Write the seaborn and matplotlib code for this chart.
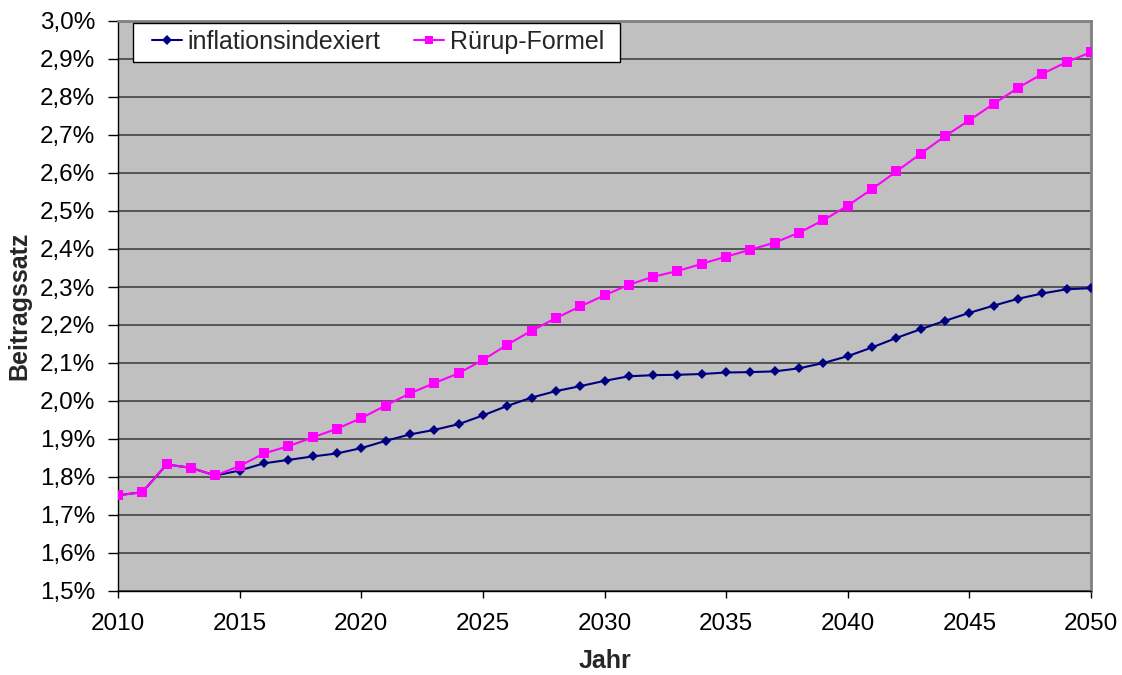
import matplotlib
matplotlib.use("Agg")
import matplotlib.pyplot as plt
import matplotlib.ticker as mticker
from matplotlib.patches import Rectangle
import seaborn as sns
import pandas as pd

years = list(range(2010, 2051))
inflationsindexiert = [
    1.752, 1.760, 1.833, 1.824, 1.804, 1.817, 1.836, 1.845, 1.854, 1.862,
    1.876, 1.895, 1.912, 1.924, 1.939, 1.962, 1.987, 2.009, 2.026, 2.039,
    2.053, 2.065, 2.068, 2.069, 2.071, 2.075, 2.076, 2.078, 2.086, 2.100,
    2.118, 2.141, 2.166, 2.189, 2.211, 2.232, 2.251, 2.269, 2.283, 2.294,
    2.297]
ruerup = [
    1.752, 1.760, 1.833, 1.824, 1.804, 1.829, 1.862, 1.881, 1.904, 1.927,
    1.955, 1.988, 2.020, 2.047, 2.073, 2.108, 2.148, 2.185, 2.218, 2.249,
    2.278, 2.306, 2.327, 2.342, 2.361, 2.380, 2.398, 2.417, 2.443, 2.476,
    2.514, 2.558, 2.604, 2.651, 2.697, 2.739, 2.782, 2.824, 2.861, 2.892,
    2.918]
series_names = ["inflationsindexiert", "Rürup-Formel"]
y_ticks = [1.5 + 0.1 * i for i in range(16)]
x_ticks = list(range(2010, 2051, 5))

df = pd.DataFrame({
    "Jahr": years * 2,
    "Beitragssatz": inflationsindexiert + ruerup,
    "Reihe": [series_names[0]] * len(years) + [series_names[1]] * len(years),
})

sns.set_theme(style="white")
plt.rcParams["font.family"] = ["Liberation Sans", "DejaVu Sans"]

fig = plt.figure(figsize=(11.22, 6.75), dpi=100)
ax = fig.add_axes([118 / 1122, 1 - 591 / 675, (1091 - 118) / 1122, (591 - 21) / 675])
ax.set_facecolor("#C0C0C0")

palette = {series_names[0]: "#000080", series_names[1]: "#FF00FF"}
markers = {series_names[0]: "D", series_names[1]: "s"}
sizes = {series_names[0]: 5.5, series_names[1]: 7}

for name in series_names:
    sub = df[df["Reihe"] == name]
    sns.lineplot(data=sub, x="Jahr", y="Beitragssatz", ax=ax, color=palette[name],
                 marker=markers[name], markersize=sizes[name], markeredgewidth=0,
                 linewidth=1.5, label=name, zorder=3 if name == series_names[0] else 4)

ax.set_xlim(2010, 2050)
ax.set_ylim(1.5, 3.0)
ax.set_xticks(x_ticks)
ax.set_yticks(y_ticks)
ax.yaxis.set_major_formatter(mticker.FuncFormatter(lambda v, p: f"{v:.1f}".replace(".", ",") + "%"))
ax.grid(axis="y", color="#555555", linewidth=1.4, zorder=1)
ax.grid(axis="x", visible=False)
ax.set_axisbelow(True)

for s in ["top", "right"]:
    ax.spines[s].set_color("#808080")
    ax.spines[s].set_linewidth(2)
for s in ["left", "bottom"]:
    ax.spines[s].set_color("#000000")
    ax.spines[s].set_linewidth(1)

ax.tick_params(axis="both", direction="out", width=1, color="#000000",
               labelsize=17.5, labelcolor="#000000", bottom=True, left=True)
ax.tick_params(axis="x", length=5, pad=11)
ax.tick_params(axis="y", length=7.2, pad=9.4)

ax.set_xlabel("Jahr", fontsize=18, fontweight="bold", labelpad=10)
ax.set_ylabel("Beitragssatz", fontsize=18, fontweight="bold", labelpad=6)

# legend: frame drawn as a rectangle in axes coordinates
frame = Rectangle((15 / 973, 1 - 41 / 570), 487 / 973, 39 / 570, transform=ax.transAxes,
                  facecolor="white", edgecolor="black", linewidth=1, zorder=5)
ax.add_patch(frame)
leg = ax.legend(loc="center left", bbox_to_anchor=(34 / 973, 1 - 21 / 570), ncol=2,
                fontsize=18, frameon=False, borderpad=0, handlelength=1.2,
                columnspacing=1.36, handletextpad=0.22, borderaxespad=0)
leg.set_zorder(6)
for h in leg.legend_handles:
    h.set_markersize(5.5)

fig.savefig("out.png", dpi=100, facecolor="white")
